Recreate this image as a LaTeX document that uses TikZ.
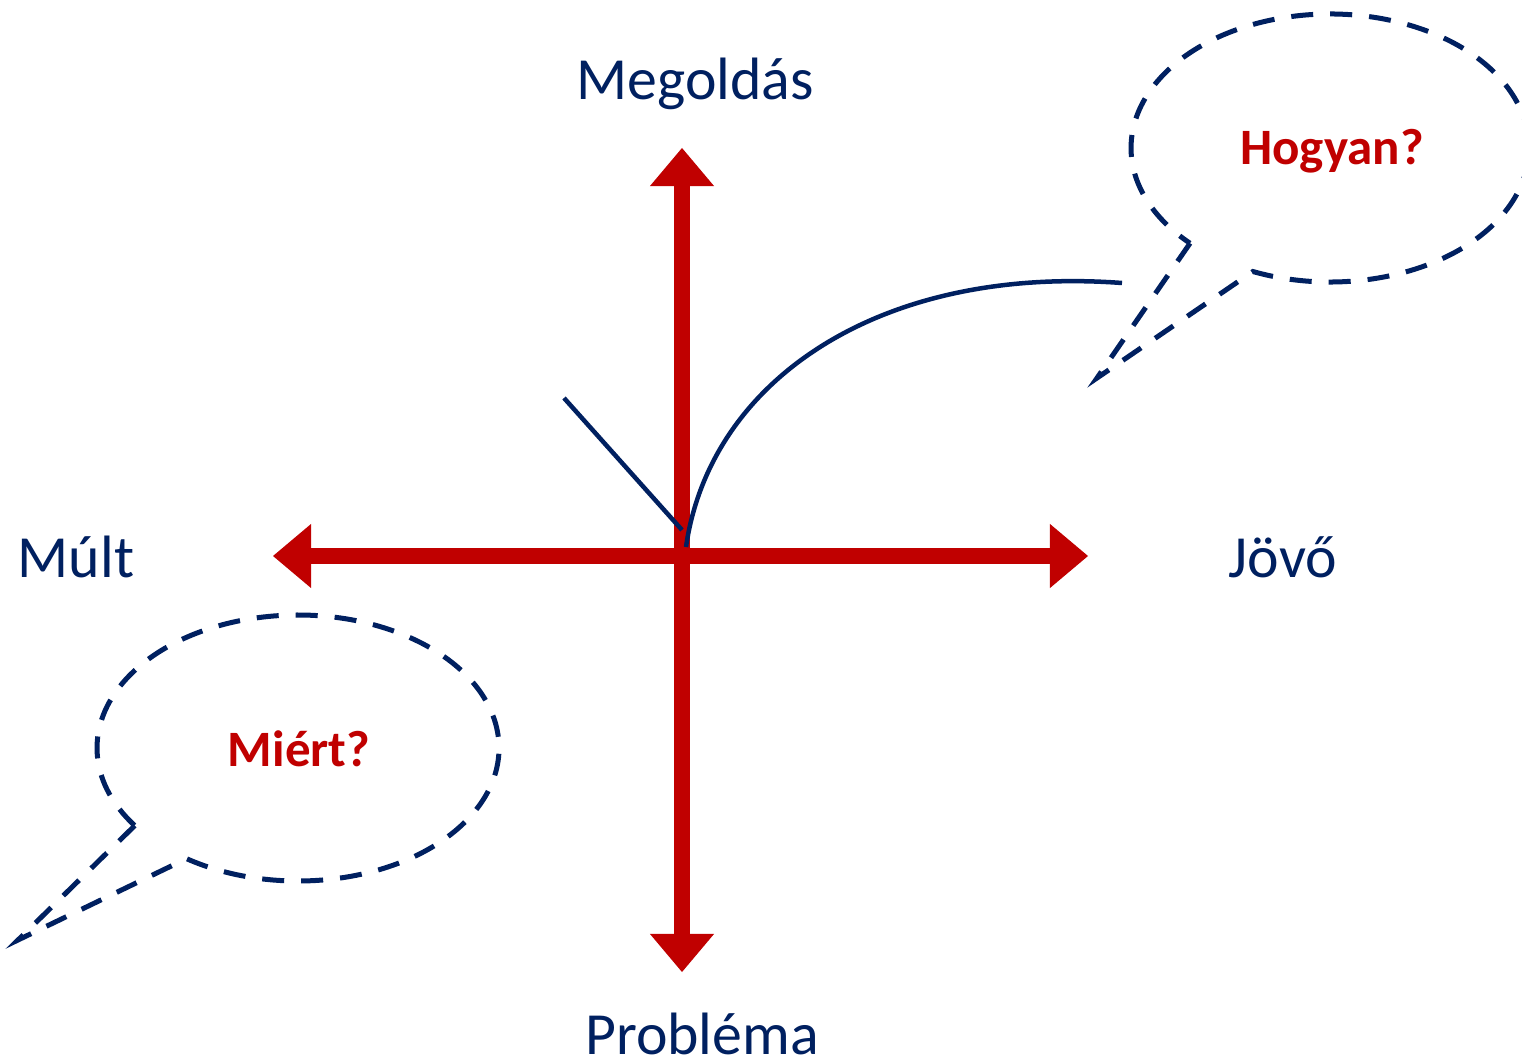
\documentclass[tikz,border=0pt]{standalone}
\usepackage{fontspec}
\setmainfont{Carlito}
\usetikzlibrary{arrows.meta,calc}
\definecolor{navy}{HTML}{002060}
\definecolor{darkred}{HTML}{C00000}
\begin{document}
\begin{tikzpicture}[x=0.01cm,y=0.01cm,
  redaxis/.style={draw=darkred, line width=0.16cm,
    {Triangle[length=0.38cm,width=0.64cm,line width=0pt]}-{Triangle[length=0.38cm,width=0.64cm,line width=0pt]}},
  axislabel/.style={text=navy, font=\fontsize{17}{20}\selectfont, anchor=base, inner sep=0pt},
  question/.style={text=darkred, font=\fontsize{14.5}{17}\selectfont\bfseries, anchor=base, inner sep=0pt},
  bubble/.style={draw=navy, line width=0.05cm, dash pattern=on 0.22cm off 0.17cm, line join=miter},
  navyline/.style={draw=navy, line width=0.045cm}]
\useasboundingbox (0,0) rectangle (1522,1060);
\fill[white] (0,0) rectangle (1522,1060);
\clip (0,0) rectangle (1522,1060);

% axes
\coordinate (N) at (682,912);
\coordinate (S) at (682,88);
\coordinate (W) at (273,504);
\coordinate (E) at (1088,504);
\draw[redaxis] (S) -- (N);
\draw[redaxis] (W) -- (E);

% navy strokes
\coordinate (L1) at (564,662);
\coordinate (L2) at (682,530);
\draw[navyline] (L1) -- (L2);
\coordinate (C1) at (686,513);
\coordinate (C2) at (1122,777);
\draw[navyline] (C1) .. controls (710,680) and (880,795) .. (C2);

% axis labels
\node[axislabel] (meg) at (695,960) {Megoldás};
\node[axislabel] (mult) at (76,483) {Múlt};
\node[axislabel] (jovo) at (1283,483) {Jövő};
\node[axislabel] (prob) at (702,6) {Probléma};

% bubble top right
\coordinate (hc) at (1330,912);
\coordinate (htip) at (1097,682);
\coordinate (hA) at ($(hc)+(225.3:199 and 134)$);
\coordinate (hB) at ($(hc)+(247.2:199 and 134)$);
\draw[bubble] (hA) -- (htip) -- (hB) arc[start angle=247.2, end angle=585.3, x radius=199, y radius=134];
\node[question] (hog) at (1332,895) {Hogyan?};

% bubble bottom left
\coordinate (mc) at (298,312);
\coordinate (mtip) at (18,120);
\coordinate (mA) at ($(mc)+(215.7:201 and 133)$);
\coordinate (mB) at ($(mc)+(236.3:201 and 133)$);
\draw[bubble] (mA) -- (mtip) -- (mB) arc[start angle=236.3, end angle=575.7, x radius=201, y radius=133];
\node[question] (mie) at (299,294) {Miért?};
\end{tikzpicture}
\end{document}
